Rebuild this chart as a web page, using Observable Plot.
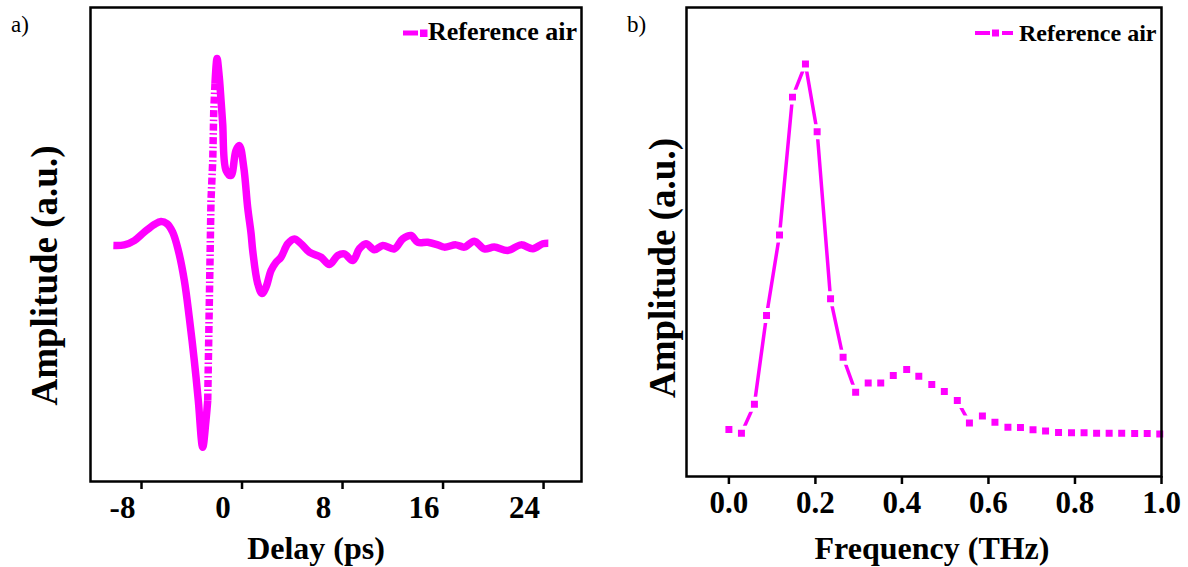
<!DOCTYPE html>
<html>
<head>
<meta charset="utf-8">
<script src="https://cdn.jsdelivr.net/npm/d3@7"></script>
<script src="https://cdn.jsdelivr.net/npm/@observablehq/plot@0.6"></script>
<style>
  body { margin: 0; background: #fff; }
  #wrap { position: relative; width: 1188px; height: 567px; overflow: hidden;
          font-family: "Liberation Serif", "Times New Roman", serif; background: #fff; }
  .panel { position: absolute; top: 0; }
  .tag { position: absolute; font-family: "Liberation Serif", "Times New Roman", serif; font-size: 23px; line-height: 1; white-space: nowrap; color: #000; }
  .legtext { position: absolute; font-family: "Liberation Serif", "Times New Roman", serif; font-weight: bold; line-height: 1; white-space: nowrap; color: #000; }
  .legsample { position: absolute; }
</style>
</head>
<body>
<div id="wrap">
  <div id="pa" class="panel" style="left:0"></div>
  <div id="pb" class="panel" style="left:594px"></div>
  <div class="tag" style="left:11px; top:13px">a)</div>
  <div class="tag" style="left:627px; top:13px">b)</div>
  <svg class="legsample" style="left:403px; top:26px" width="25" height="14">
    <line x1="0" x2="15" y1="7" y2="7" stroke="#FF00FF" stroke-width="5"/>
    <rect x="17" y="3.5" width="7.5" height="7.5" fill="#FF00FF"/>
  </svg>
  <div class="legtext" style="left:428px; top:19px; font-size:26px">Reference air</div>
  <svg class="legsample" style="left:975px; top:26px" width="38" height="14">
    <line x1="0" x2="15" y1="7" y2="7" stroke="#FF00FF" stroke-width="4"/>
    <rect x="17" y="3.5" width="7" height="7" fill="#FF00FF"/>
    <line x1="27" x2="38" y1="7" y2="7" stroke="#FF00FF" stroke-width="4"/>
  </svg>
  <div class="legtext" style="left:1019px; top:20.5px; font-size:24px">Reference air</div>
</div>
<script>
// ---------- Data ----------
// Panel a) time-domain signal
const delayPs = [-10.24, -9.37, -8.57, -7.78, -6.98, -6.45, -5.97, -5.52, -5.07, -4.59,
  -4.20, -3.80, -3.48, -3.13, -2.87, -2.73, -2.60, -2.47, -2.33, -2.25,
  -2.15, -1.99, -1.81, -1.67, -1.54, -1.27, -0.88, -0.48, -0.21, 0.14,
  0.45, 0.72, 0.85, 1.25, 1.59, 1.91, 2.31, 2.71, 3.10, 3.64,
  4.16, 4.70, 5.36, 6.29, 6.95, 7.62, 8.14, 8.81, 9.34, 9.87,
  10.53, 11.20, 12.12, 12.79, 13.45, 13.99, 14.78, 15.58, 16.10, 17.03,
  17.70, 18.49, 19.29, 20.08, 21.15, 22.21, 23.14, 23.94, 24.38];
const delayAmp = [-0.005, -0.002, 0.021, 0.066, 0.107, 0.123, 0.111, 0.066, -0.032, -0.193,
  -0.389, -0.620, -0.834, -1.084, -0.941, -0.834, -0.299, 0.235, 0.449, 0.717,
  0.861, 0.995, 0.895, 0.770, 0.647, 0.396, 0.369, 0.503, 0.529, 0.412,
  0.198, 0.059, -0.032, -0.209, -0.262, -0.228, -0.139, -0.095, -0.068, 0.004,
  0.030, 0.004, -0.041, -0.068, -0.107, -0.059, -0.050, -0.086, -0.023, 0.004,
  -0.028, -0.005, -0.023, 0.030, 0.048, 0.012, 0.012, -0.002, -0.014, -0.002,
  -0.014, 0.018, -0.023, -0.014, -0.032, -0.002, -0.023, 0.004, 0.007];
const delayTicks = [-8, 0, 8, 16, 24];

// Panel b) spectrum
const freqTHz = [0.000, 0.029, 0.059, 0.087, 0.117, 0.147, 0.177, 0.204, 0.235, 0.264,
  0.293, 0.322, 0.351, 0.380, 0.411, 0.439, 0.469, 0.498, 0.528, 0.556,
  0.586, 0.615, 0.645, 0.674, 0.703, 0.732, 0.762, 0.792, 0.821, 0.850,
  0.879, 0.908, 0.938, 0.967, 0.996];
const freqAmp = [0.042, 0.032, 0.108, 0.342, 0.554, 0.917, 1.004, 0.826, 0.386, 0.232,
  0.140, 0.164, 0.164, 0.184, 0.200, 0.182, 0.160, 0.142, 0.118, 0.059,
  0.077, 0.061, 0.048, 0.047, 0.041, 0.038, 0.034, 0.033, 0.033, 0.032,
  0.032, 0.032, 0.031, 0.031, 0.030];
const freqTicks = [0.0, 0.2, 0.4, 0.6, 0.8, 1.0];

const seriesName = "Reference air";
const delayLabel = "Delay (ps)";
const freqLabel = "Frequency (THz)";
const ampLabel = "Amplitude (a.u.)";
const magenta = "#FF00FF";
const font = "Liberation Serif, Times New Roman, serif";

// ---------- Split panel a) into smooth (solid) and steep (dash-dot) runs ----------
const pts = delayPs.map((t, i) => ({t, a: delayAmp[i]}));
const runs = [];
let cur = null;
for (let i = 0; i < pts.length - 1; i++) {
  const steep = Math.abs((pts[i + 1].a - pts[i].a) / (pts[i + 1].t - pts[i].t)) > 1.2;
  if (!cur || cur.steep !== steep) { cur = {steep, pts: [pts[i]]}; runs.push(cur); }
  cur.pts.push(pts[i + 1]);
}
const solidRows = runs.flatMap((r, k) => r.steep ? [] : r.pts.map(p => ({...p, run: k})));
const dashRows = runs.flatMap((r, k) => r.steep ? r.pts.map(p => ({...p, run: k})) : []);

const baseStyle = {fontFamily: font, fontWeight: "bold", fontSize: "31px", background: "transparent", overflow: "visible"};

const plotA = Plot.plot({
  width: 594, height: 567,
  marginLeft: 90, marginRight: 13, marginTop: 7, marginBottom: 86,
  x: {domain: [-12.06, 27.02]},
  y: {domain: [-1.267, 1.267], axis: null},
  style: baseStyle,
  marks: [
    Plot.line(solidRows, {x: "t", y: "a", z: "run", curve: "catmull-rom", stroke: magenta, strokeWidth: 7.5, strokeLinejoin: "round", strokeLinecap: "butt"}),
    Plot.line(dashRows, {x: "t", y: "a", z: "run", stroke: magenta, strokeWidth: 7.5, strokeLinecap: "butt", strokeDasharray: "7,2.5,1.5,2.5"}),
    Plot.axisX({ticks: delayTicks, tickSize: 8, strokeWidth: 2.5, fill: "none", label: null}),
    Plot.axisX({ticks: delayTicks, tickSize: 8, tickPadding: 6, stroke: "none", dx: -19, fill: "#000",
      tickFormat: d => String(d), fontSize: 31, label: null}),
    Plot.text([delayLabel], {text: d => d, frameAnchor: "bottom", lineAnchor: "middle", textAnchor: "middle", dy: 67, dx: -20, fontSize: 32, fill: "#000"}),
    Plot.text([ampLabel], {text: d => d, frameAnchor: "left", textAnchor: "middle", lineAnchor: "middle", rotate: -90, dx: -45, dy: 31, fontSize: 37, fill: "#000"}),
    Plot.frame({strokeWidth: 2.5, stroke: "#000"})
  ]
});
document.getElementById("pa").appendChild(plotA);

const specRows = freqTHz.map((f, i) => ({f, a: freqAmp[i]}));
const plotB = Plot.plot({
  width: 594, height: 567,
  marginLeft: 92, marginRight: 27, marginTop: 7, marginBottom: 91,
  x: {domain: [-0.098, 1.0]},
  y: {domain: [-0.082, 1.153], axis: null},
  style: baseStyle,
  marks: [
    Plot.line(specRows, {x: "f", y: "a", stroke: magenta, strokeWidth: 3.5, strokeLinejoin: "round"}),
    Plot.dot(specRows, {x: "f", y: "a", symbol: "square", r: 6.2, fill: magenta, stroke: "#fff", strokeWidth: 4}),
    Plot.axisX({ticks: freqTicks, tickSize: 8, strokeWidth: 2.5, fill: "none", label: null}),
    Plot.axisX({ticks: freqTicks, tickSize: 8, tickPadding: 6, stroke: "none", fill: "#000",
      tickFormat: d3.format(".1f"), fontSize: 31, label: null}),
    Plot.text([freqLabel], {text: d => d, frameAnchor: "bottom", lineAnchor: "middle", textAnchor: "middle", dy: 72, dx: 8, fontSize: 32, fill: "#000"}),
    Plot.text([ampLabel], {text: d => d, frameAnchor: "left", textAnchor: "middle", lineAnchor: "middle", rotate: -90, dx: -23, dy: 26, fontSize: 37, fill: "#000"}),
    Plot.frame({strokeWidth: 2.5, stroke: "#000"})
  ]
});
document.getElementById("pb").appendChild(plotB);
</script>
</body>
</html>
